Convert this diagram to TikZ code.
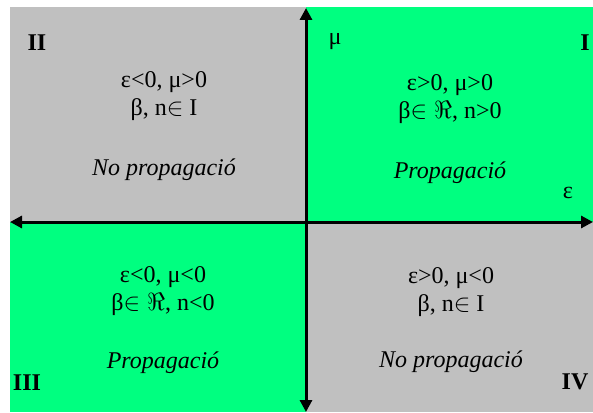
\documentclass[tikz,border=0pt]{standalone}
\usepackage{fontspec}
\setmainfont{Liberation Serif}
\usetikzlibrary{arrows.meta, positioning}
\definecolor{cGreen}{RGB}{0,255,128}
\definecolor{cGray}{RGB}{192,192,192}
\tikzset{
	cond/.style     ={align=center, font=\fontsize{24}{28}\selectfont, inner sep=0pt},
	verdict/.style  ={font=\fontsize{24}{28}\selectfont\itshape, inner sep=0pt},
	quadno/.style   ={font=\fontsize{24}{28}\selectfont\bfseries, inner sep=0pt},
	axlabel/.style  ={font=\fontsize{24}{28}\selectfont, inner sep=0pt},
	axisline/.style ={{Triangle[length=12pt,width=12pt]}-{Triangle[length=12pt,width=12pt]}, line width=3pt},
}
\begin{document}
\begin{tikzpicture}[x=1pt, y=-1pt]
	\useasboundingbox (0,0) rectangle (593,412);
	% quadrants
	\fill[cGray]  (10,7)    rectangle (306,222);
	\fill[cGreen] (306,7)   rectangle (593,222);
	\fill[cGreen] (10,222)  rectangle (306,412);
	\fill[cGray]  (306,222) rectangle (593,412);
	% axes
	\coordinate (eL) at (10,222);  \coordinate (eR) at (593,222);
	\coordinate (mT) at (306,8);   \coordinate (mB) at (306,412);
	\draw[axisline] (eL) -- (eR);
	\draw[axisline] (mT) -- (mB);
	\node[axlabel] (mu)  at (335,42)  {μ};
	\node[axlabel] (eps) at (568,193) {ε};
	% quadrant numbers
	\node[quadno] (qI)   at (585,43)  {I};
	\node[quadno] (qII)  at (37,43)   {II};
	\node[quadno] (qIII) at (27,383)  {III};
	\node[quadno] (qIV)  at (575,382) {IV};
	% conditions
	\node[cond] (cI)   at (450,99)  {ε>0, μ>0\\β$\in\Re$, n>0};
	\node[cond] (cII)  at (164,96)  {ε<0, μ>0\\β, n$\in$ I};
	\node[cond] (cIII) at (163,291) {ε<0, μ<0\\β$\in\Re$, n<0};
	\node[cond] (cIV)  at (451,292) {ε>0, μ<0\\β, n$\in$ I};
	\node[verdict] (vI)   at (450,173) {Propagació};
	\node[verdict] (vII)  at (164,170) {No propagació};
	\node[verdict] (vIII) at (163,363) {Propagació};
	\node[verdict] (vIV)  at (451,362) {No propagació};
\end{tikzpicture}
\end{document}
